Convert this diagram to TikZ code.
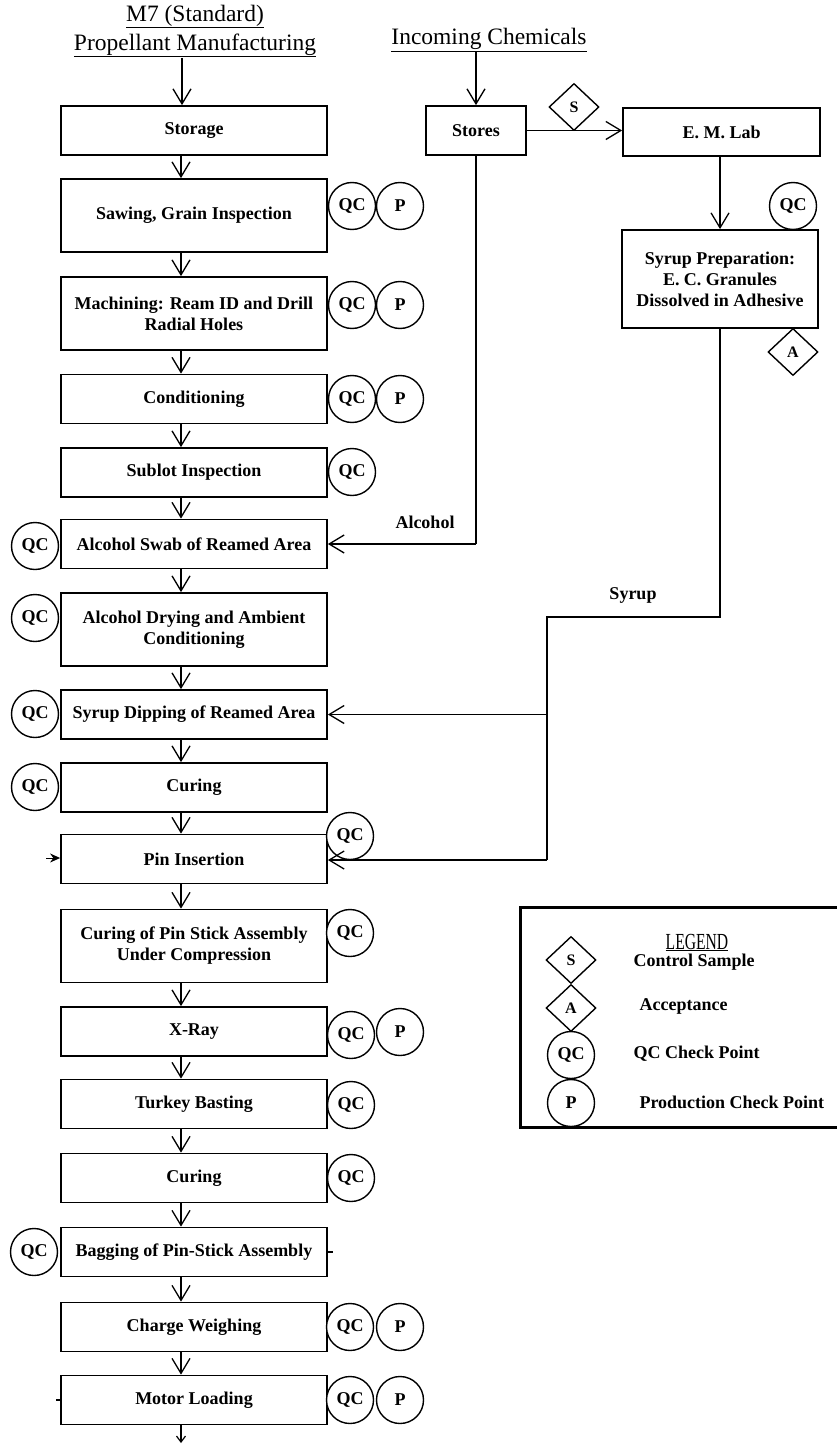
\documentclass[tikz,border=0pt]{standalone}
\usepackage{fontspec}
\setmainfont{Liberation Serif}
\usepackage{graphicx}
\usetikzlibrary{shapes.geometric,arrows.meta}
\begin{document}
\begin{tikzpicture}[x=1pt,y=-1pt,
  txt/.style={font=\fontsize{18}{21}\selectfont\bfseries},
  box/.style={draw,line width=1.8pt,inner sep=0pt,align=center,fill=white,txt},
  stepbox/.style={box,minimum width=266pt,minimum height=49pt},
  tallbox/.style={box,minimum width=266pt,minimum height=73pt},
  chk/.style={circle,draw,line width=1.4pt,minimum size=47pt,inner sep=0pt,fill=white,txt},
  gate/.style={diamond,draw,line width=1.4pt,minimum width=50pt,minimum height=47pt,inner sep=0pt,fill=white,font=\fontsize{16}{16}\selectfont\bfseries},
  flow/.style={line width=1.5pt},
  arr/.style={flow,-{Straight Barb[length=15pt,width=18pt,line width=1.3pt]}},
  title/.style={font=\fontsize{23.5}{29}\selectfont,align=center}
]
\useasboundingbox (0,0) rectangle (836,1447);

% ---- headings ----
\node[title] (mtitle) at (195,31) {\underline{M7 (Standard)}\\\underline{Propellant Manufacturing}};
\node[title] (ctitle) at (489,40) {\underline{Incoming Chemicals}};
\coordinate (mtop) at (182,58);
\coordinate (ctop) at (476,52);

% ---- main process column ----
\node[stepbox] (storage)  at (194,130.5) {Storage};
\node[tallbox] (sawing)   at (194,215.5) {Sawing, Grain Inspection};
\node[tallbox] (machining) at (194,313.5) {Machining: Ream ID and Drill\\Radial Holes};
\node[stepbox] (cond)     at (194,399) {Conditioning};
\node[stepbox] (sublot)   at (194,472.5) {Sublot Inspection};
\node[stepbox] (swab)     at (194,544) {Alcohol Swab of Reamed Area};
\node[tallbox] (drying)   at (194,629.5) {Alcohol Drying and Ambient\\Conditioning};
\node[stepbox] (dipping)  at (194,714.5) {Syrup Dipping of Reamed Area};
\node[stepbox] (curing)   at (194,787.5) {Curing};
\node[stepbox] (pin)      at (194,859) {Pin Insertion};
\node[tallbox] (curepin)  at (194,946) {Curing of Pin Stick Assembly\\Under Compression};
\node[stepbox] (xray)     at (194,1031.5) {X-Ray};
\node[stepbox] (turkey)   at (194,1104) {Turkey Basting};
\node[stepbox] (curingb)  at (194,1178) {Curing};
\node[stepbox] (bagging)  at (194,1252) {Bagging of Pin-Stick Assembly};
\node[stepbox] (charge)   at (194,1327) {Charge Weighing};
\node[stepbox] (motor)    at (194,1400) {Motor Loading};
\coordinate (mend) at (181,1443);

% ---- check points beside the column ----
\node[chk] (qc1) at (352,206) {QC};   \node[chk] (p1) at (400,206) {P};
\node[chk] (qc2) at (352,305) {QC};   \node[chk] (p2) at (400,305) {P};
\node[chk] (qc3) at (352,399) {QC};   \node[chk] (p3) at (400,399) {P};
\node[chk] (qc4) at (352,472) {QC};
\node[chk] (qc5) at (35,546) {QC};
\node[chk] (qc6) at (35,618) {QC};
\node[chk] (qc7) at (35,714) {QC};
\node[chk] (qc8) at (35,787) {QC};
\node[chk] (qc9) at (350,836) {QC};
\node[chk] (qc10) at (350,933) {QC};
\node[chk] (qc11) at (351,1035) {QC}; \node[chk] (p11) at (400,1032) {P};
\node[chk] (qc12) at (351,1105) {QC};
\node[chk] (qc13) at (351,1178) {QC};
\node[chk] (qc14) at (34,1252) {QC};
\node[chk] (qc15) at (350,1327) {QC}; \node[chk] (p15) at (400,1327) {P};
\node[chk] (qc16) at (350,1400) {QC}; \node[chk] (p16) at (400,1400) {P};

% ---- main flow arrows ----
\draw[arr] (mtop) -- (mtop |- storage.north);
\foreach \a/\b in {storage/sawing,sawing/machining,machining/cond,cond/sublot,sublot/swab,
  swab/drying,drying/dipping,dipping/curing,curing/pin,pin/curepin,curepin/xray,
  xray/turkey,turkey/curingb,curingb/bagging,bagging/charge,charge/motor}
  \draw[arr] ([xshift=-13pt]\a.south) -- ([xshift=-13pt]\b.north);
\draw[flow,-{Straight Barb[length=6pt,width=9pt,line width=1.2pt]}] ([xshift=-13pt]motor.south) -- (mend);

% small marks on the column
\coordinate (pinin) at (46,858);
\draw[line width=1pt,-{Stealth[length=10pt,width=9pt]}] (pinin) -- (pinin -| pin.west);
\draw[line width=1.4pt] (bagging.east) -- ++(5,0);
\draw[line width=1.4pt] (motor.west) -- ++(-4,0);

% ---- incoming chemicals ----
\node[box,minimum width=100pt,minimum height=49pt] (stores) at (476,130.5) {Stores};
\node[box,minimum width=197pt,minimum height=48pt] (emlab) at (721.5,132) {E. M. Lab};
\node[box,minimum width=196pt,minimum height=98pt] (syrupprep) at (720,279)
  {Syrup Preparation:\\E. C. Granules\\Dissolved in Adhesive};

\draw[arr] (ctop) -- (ctop |- stores.north);
\draw[arr] (stores.east) -- (stores.east -| emlab.west);
\node[gate] (sgate) at (574,107) {S};
\draw[arr] (emlab.south -| syrupprep.north) -- (syrupprep.north);
\node[chk] (qcs) at (793,206) {QC};
\node[gate] (agate) at (793,352) {A};

% alcohol feed
\coordinate (alc) at (stores.south |- swab.east);
\draw[flow] (stores.south) -- (alc);
\draw[arr] (alc) -- (swab.east);
\node[txt] (alclbl) at (425,522) {Alcohol};

% syrup feed
\coordinate (s1) at (720,617);
\coordinate (s2) at (547,617);
\coordinate (s3) at (547,860);
\draw[flow] (syrupprep.south) -- (s1) -- (s2) -- (s3);
\draw[arr] (s3) -- (s3 -| pin.east);
\draw[arr] (s2 |- dipping.east) -- (dipping.east);
\node[txt] (syrlbl) at (633,595) {Syrup};

% ---- legend ----
\draw[line width=3pt] (520,907) rectangle (842,1127);
\node[anchor=base,inner sep=0pt] (leg) at (697,949) {\scalebox{0.68}[1]{\fontsize{23}{23}\selectfont\underline{LEGEND}}};
\node[gate] (ls) at (571,960) {S};
\node[gate] (la) at (571,1008) {A};
\node[chk] (lq) at (571,1055) {QC};
\node[chk] (lp) at (571,1103) {P};
\node[txt,anchor=west] (lst) at (630,962) {Control Sample};
\node[txt,anchor=west] (lat) at (636,1006) {Acceptance};
\node[txt,anchor=west] (lqt) at (630,1054) {QC Check Point};
\node[txt,anchor=west] (lpt) at (636,1102) {Production Check Point};
\end{tikzpicture}
\end{document}
